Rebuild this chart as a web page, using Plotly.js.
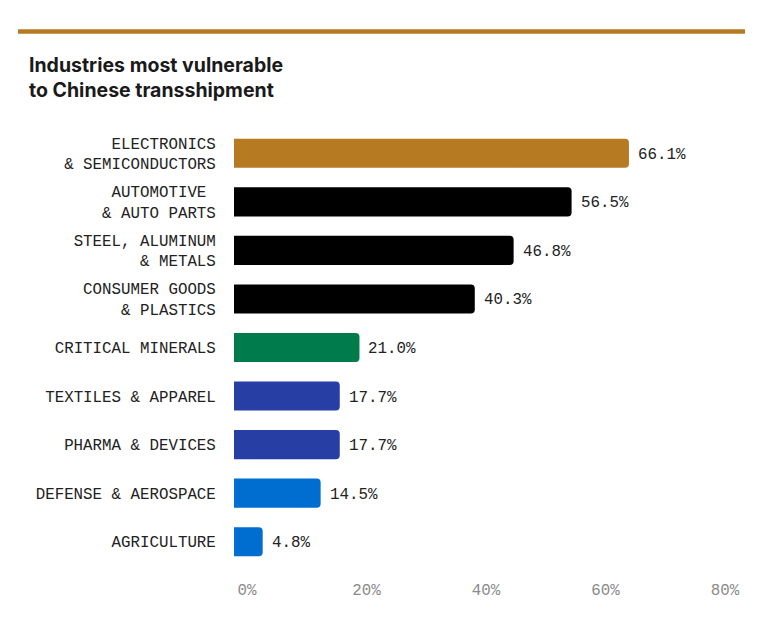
<!DOCTYPE html>
<html>
<head>
<meta charset="utf-8">
<script src="https://cdn.plot.ly/plotly-3.0.1.min.js"></script>
<style>
  html, body { margin: 0; padding: 0; background: #fff; }
  #chart { width: 779px; height: 623px; }
</style>
</head>
<body>
<div id="chart"></div>
<script>
// industries, top to bottom
const industries = [
  "ELECTRONICS<br>& SEMICONDUCTORS",
  "AUTOMOTIVE\u00a0<br>& AUTO PARTS",
  "STEEL, ALUMINUM<br>& METALS",
  "CONSUMER GOODS<br>& PLASTICS",
  "CRITICAL MINERALS",
  "TEXTILES & APPAREL",
  "PHARMA & DEVICES",
  "DEFENSE & AEROSPACE",
  "AGRICULTURE"
];
const shares = [66.1, 56.5, 46.8, 40.3, 21.0, 17.7, 17.7, 14.5, 4.8];
const barColors = [
  "#b67a22", "#000000", "#000000", "#000000",
  "#007b4c", "#273ea4", "#273ea4", "#006dd0", "#006dd0"
];
const xTicks = [0, 20, 40, 60, 80];
const xTickText = ["0%", "20%", "40%", "60%", "80%"];

const mono = "Liberation Mono, DejaVu Sans Mono, monospace";

const trace = {
  type: "bar",
  orientation: "h",
  x: shares,
  y: industries,
  width: 0.6,
  marker: { color: barColors, cornerradius: 4, line: { width: 0 } },
  hoverinfo: "skip"
};

// value labels just past the end of each bar
const valueLabels = shares.map((v, i) => ({
  x: v,
  y: industries[i],
  xref: "x",
  yref: "y",
  text: v.toFixed(1) + "%",
  showarrow: false,
  xanchor: "left",
  yanchor: "middle",
  xshift: 7,
  yshift: -1.5,
  font: { family: mono, size: 15.8, color: "#222" }
}));

const layout = {
  width: 779,
  height: 623,
  margin: { l: 234, r: 67, t: 129, b: 57 },
  paper_bgcolor: "#fff",
  plot_bgcolor: "#fff",
  showlegend: false,
  bargap: 0.4,
  title: {
    text: "Industries most vulnerable<br>to Chinese transshipment",
    xref: "container",
    x: 29 / 779,
    xanchor: "left",
    yref: "container",
    y: 1 - 72 / 623,
    yanchor: "top",
    font: { family: "Inter, Roboto, sans-serif", size: 19.5, weight: 700, color: "#1a1a1a" }
  },
  xaxis: {
    range: [0, 80],
    tickvals: xTicks,
    ticktext: xTickText,
    ticklabelshift: 13,
    ticks: "outside",
    ticklen: 9,
    tickcolor: "rgba(0,0,0,0)",
    showgrid: false,
    zeroline: false,
    showline: false,
    tickfont: { family: mono, size: 15.8, color: "#8a8a8a" },
    fixedrange: true
  },
  yaxis: {
    type: "category",
    autorange: "reversed",
    ticks: "outside",
    ticklen: 14,
    tickcolor: "rgba(0,0,0,0)",
    showgrid: false,
    zeroline: false,
    showline: false,
    tickfont: { family: mono, size: 15.8, color: "#222" },
    fixedrange: true
  },
  shapes: [{
    type: "line",
    xref: "paper",
    yref: "paper",
    x0: (18 - 234) / 478,
    x1: (745 - 234) / 478,
    y0: (566 - 31.5) / 437,
    y1: (566 - 31.5) / 437,
    line: { color: "#b67a22", width: 4.5 }
  }],
  annotations: valueLabels
};

Plotly.newPlot("chart", [trace], layout, { displayModeBar: false, staticPlot: true });
</script>
</body>
</html>
